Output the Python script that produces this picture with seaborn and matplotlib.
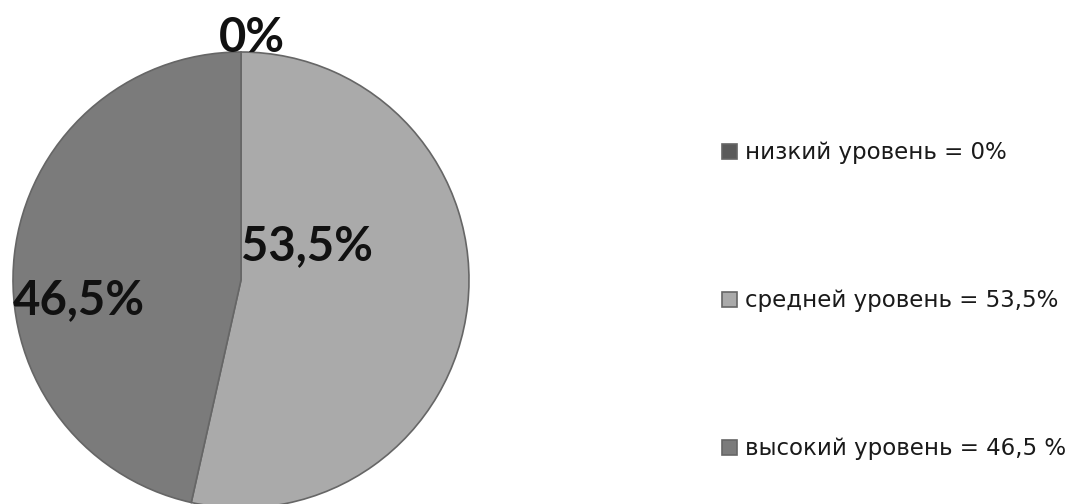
import seaborn as sns
import matplotlib.pyplot as plt

levels = ['низкий уровень', 'средней уровень', 'высокий уровень']
shares = [0, 53.5, 46.5]
legend_labels = ['низкий уровень = 0%', 'средней уровень = 53,5%', 'высокий уровень = 46,5 %']
pie_colors = ['#5a5a5a', '#aaaaaa', '#7b7b7b']

sns.set_theme(style='white')
plt.rcParams['font.family'] = ['DejaVu Sans']

fig = plt.figure(figsize=(10.75, 5.04), dpi=100)
ax = fig.add_axes([13 / 1075, -4 / 504, 456 / 1075, 456 / 504])

wedges, _ = ax.pie(shares, colors=pie_colors, startangle=90, counterclock=False,
                   radius=1, wedgeprops=dict(edgecolor='#666666', linewidth=1.2))
ax.set_xlim(-1, 1)
ax.set_ylim(-1, 1)
ax.set_aspect('equal')
ax.axis('off')

def fmt(v):
    return f'{v:g}'.replace('.', ',') + '%'

# подписи долей (положение как в Excel)
label_pos = [(0.05, 1.06), (0.29, 0.15), (-0.71, -0.09)]
for v, (x, y) in zip(shares, label_pos):
    ax.text(x, y, fmt(v), ha='center', va='center', fontsize=34, fontweight='bold',
            family='Lato', color='#111111', clip_on=False)

leg = fig.legend(wedges, legend_labels, loc='upper left', bbox_to_anchor=(711 / 1075, 1 - 130 / 504),
                 frameon=False, fontsize=16.5, handlelength=0.65, handleheight=0.65,
                 handletextpad=0.35, labelspacing=5.45, borderpad=0, labelcolor='#1a1a1a')

fig.savefig('out.png', dpi=100)
